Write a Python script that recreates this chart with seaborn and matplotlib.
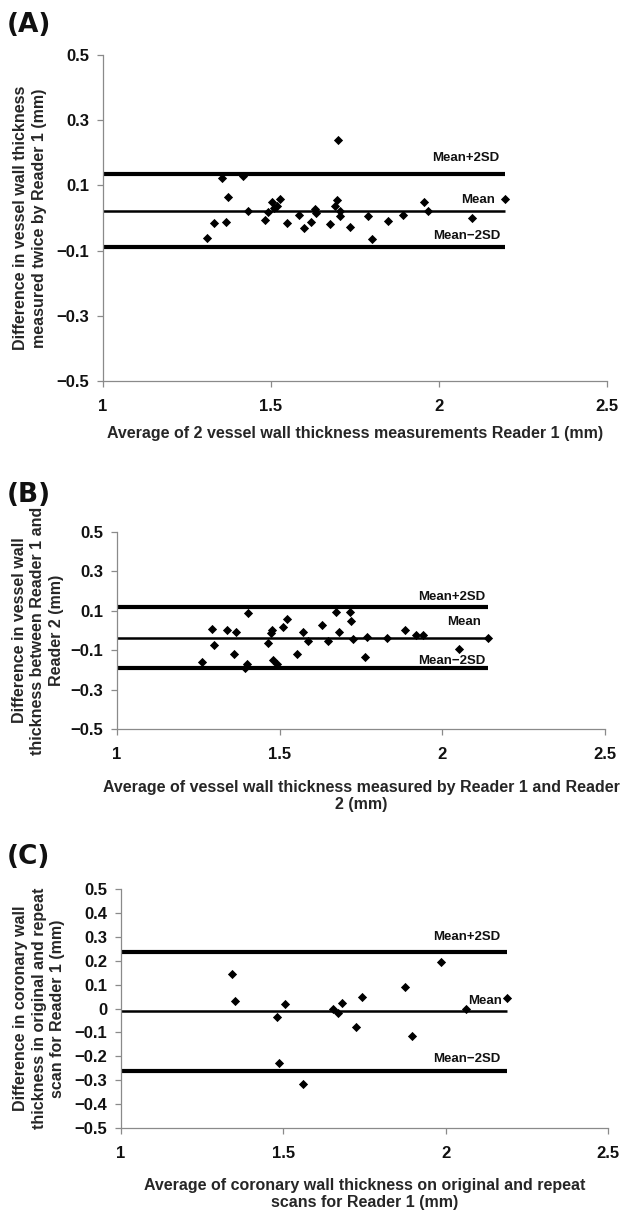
import matplotlib
matplotlib.use("Agg")
import matplotlib.pyplot as plt
import pandas as pd
import seaborn as sns
from matplotlib.ticker import FuncFormatter

# ---- Panel A: Reader 1 measuring the vessel wall twice ----
a_avg = [1.311, 1.331, 1.354, 1.367, 1.373, 1.418, 1.432, 1.483, 1.491, 1.502,
         1.510, 1.517, 1.528, 1.547, 1.583, 1.599, 1.618, 1.631, 1.633, 1.676,
         1.692, 1.696, 1.698, 1.704, 1.706, 1.735, 1.790, 1.800, 1.848, 1.893,
         1.955, 1.966, 2.098, 2.195]
a_diff = [-0.060, -0.014, 0.124, -0.012, 0.065, 0.128, 0.022, -0.006, 0.017, 0.049,
          0.032, 0.038, 0.059, -0.014, 0.010, -0.031, -0.013, 0.027, 0.015, -0.020,
          0.038, 0.054, 0.240, 0.021, 0.006, -0.027, 0.006, -0.063, -0.008, 0.009,
          0.049, 0.022, -0.001, 0.059]
a_limits = [0.135, 0.022, -0.090]   # mean+2SD, mean, mean-2SD

# ---- Panel B: Reader 1 vs Reader 2 ----
b_avg = [1.262, 1.293, 1.299, 1.338, 1.360, 1.367, 1.392, 1.400, 1.402, 1.464,
         1.474, 1.477, 1.478, 1.491, 1.509, 1.524, 1.552, 1.571, 1.586, 1.631,
         1.648, 1.673, 1.681, 1.715, 1.718, 1.725, 1.763, 1.769, 1.831, 1.885,
         1.919, 1.941, 2.051, 2.140]
b_diff = [-0.162, 0.006, -0.075, 0.003, -0.121, -0.008, -0.192, -0.168, 0.091, -0.065,
          -0.013, 0.001, -0.148, -0.172, 0.016, 0.057, -0.121, -0.008, -0.053, 0.026,
          -0.052, 0.096, -0.006, 0.092, 0.047, -0.041, -0.136, -0.035, -0.040, 0.001,
          -0.025, -0.025, -0.096, -0.040]
b_limits = [0.118, -0.040, -0.190]

# ---- Panel C: coronary wall, original vs repeat scan ----
c_avg = [1.342, 1.351, 1.479, 1.486, 1.504, 1.559, 1.652, 1.668, 1.682, 1.723,
         1.741, 1.876, 1.897, 1.986, 2.064, 2.190]
c_diff = [0.144, 0.031, -0.035, -0.229, 0.018, -0.316, 0.000, -0.017, 0.024, -0.077,
          0.049, 0.088, -0.117, 0.196, -0.003, 0.045]
c_limits = [0.235, -0.011, -0.260]

x_ticks = [1, 1.5, 2, 2.5]
ab_yticks = [-0.5, -0.3, -0.1, 0.1, 0.3, 0.5]
c_yticks = [-0.5, -0.4, -0.3, -0.2, -0.1, 0, 0.1, 0.2, 0.3, 0.4, 0.5]
limit_names = ["Mean+2SD", "Mean", "Mean\u22122SD"]

sns.set_theme(style="white")
plt.rcParams['font.family'] = ['Liberation Sans', 'DejaVu Sans']
plt.rcParams['font.weight'] = 'bold'
plt.rcParams['text.color'] = '#111111'

SPINE = '#8a8a8a'


def fmt(v, pos):
    return f"{v:g}".replace("-", "\u2212")


def draw_panel(ax, avg, diff, limits, yticks, xlabel, ylabel, xlab_y, ylab_x, label_offsets):
    df = pd.DataFrame({'avg': avg, 'diff': diff})
    sns.scatterplot(data=df, x='avg', y='diff', ax=ax, marker='D', s=22,
                    color='black', linewidth=0, zorder=3)
    x_end = max(avg)
    for val, lw, name, (dx, dy) in zip(limits, [3.0, 1.8, 3.0], limit_names, label_offsets):
        ax.hlines(val, 1, x_end, color='black', linewidth=lw, zorder=2)
        ax.annotate(name, xy=(x_end, val), xytext=(dx, dy), textcoords='offset points',
                    ha='right', va='center', fontsize=9.5, fontweight='bold')

    ax.set_xlim(1, 2.5)
    ax.set_ylim(-0.5, 0.5)
    ax.set_xticks(x_ticks)
    ax.set_yticks(yticks)
    ax.xaxis.set_major_formatter(FuncFormatter(fmt))
    ax.yaxis.set_major_formatter(FuncFormatter(fmt))

    sns.despine(ax=ax)
    for side in ['left', 'bottom']:
        ax.spines[side].set_color(SPINE)
        ax.spines[side].set_linewidth(0.9)
    ax.tick_params(axis='both', which='major', length=4, width=0.9, color=SPINE,
                   labelsize=12, labelcolor='#111111')
    ax.tick_params(axis='x', pad=9, bottom=True)
    ax.tick_params(axis='y', pad=6, left=True)
    for t in ax.get_xticklabels() + ax.get_yticklabels():
        t.set_fontweight('bold')

    ax.set_xlabel(xlabel, fontsize=11.5, fontweight='bold', linespacing=1.15)
    ax.xaxis.label.set_va('center')
    ax.xaxis.set_label_coords(0.5, xlab_y)
    ax.set_ylabel(ylabel, fontsize=11.5, fontweight='bold', linespacing=1.3)
    ax.yaxis.label.set_va('center')
    ax.yaxis.set_label_coords(ylab_x, 0.5)


fig = plt.figure(figsize=(6.2, 12.14), dpi=100)
fig.patch.set_facecolor('white')

ax_a = fig.add_axes([0.1661, 0.6862, 0.8129, 0.2685])
ax_b = fig.add_axes([0.1887, 0.3995, 0.7871, 0.1623])
ax_c = fig.add_axes([0.1952, 0.0708, 0.7855, 0.1969])

draw_panel(ax_a, a_avg, a_diff, a_limits, ab_yticks,
           "Average of 2 vessel wall thickness measurements Reader 1 (mm)",
           "Difference in vessel wall thickness\nmeasured twice by Reader 1 (mm)",
           -0.160, -0.145, [(-4, 11.5), (-7, 8), (-3, 8.5)])
draw_panel(ax_b, b_avg, b_diff, b_limits, ab_yticks,
           "Average of vessel wall thickness measured by Reader 1 and Reader\n2 (mm)",
           "Difference in vessel wall\nthickness between Reader 1 and\nReader 2 (mm)",
           -0.338, -0.162, [(-2, 7.5), (-5, 11.5), (-2, 5)])
draw_panel(ax_c, c_avg, c_diff, c_limits, c_yticks,
           "Average of coronary wall thickness on original and repeat\nscans for Reader 1 (mm)",
           "Difference in coronary wall\nthickness in original and repeat\nscan for Reader 1 (mm)",
           -0.276, -0.168, [(-5, 11), (-4, 7.5), (-5, 8.5)])

for letter, ypx in [("(A)", 25), ("(B)", 495), ("(C)", 857)]:
    fig.text(7 / 620, 1 - ypx / 1214, letter, ha='left', va='center',
             fontsize=19, fontweight='bold', family=['DejaVu Sans'])

fig.savefig("out.png", dpi=100, facecolor='white')
